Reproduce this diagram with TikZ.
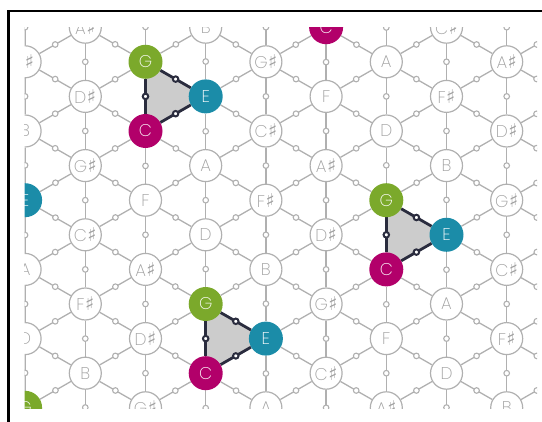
\documentclass[tikz,border=0pt]{standalone}
\usepackage{fontspec}
\setmainfont{Poppins ExtraLight}
\newfontfamily\tnzsym{DejaVu Sans}
\definecolor{lgray}{HTML}{B0B0B0}
\definecolor{tgray}{HTML}{A0A0A0}
\definecolor{cmag}{HTML}{B2006A}
\definecolor{eteal}{HTML}{1B8CA8}
\definecolor{ggreen}{HTML}{7BA92B}
\definecolor{dnavy}{HTML}{2A2C3E}
\definecolor{trifill}{HTML}{CCCCCC}
\newcommand\tnzsharp{{\tnzsym\fontsize{19}{19}\selectfont\kern0.5pt ♯}}
\newcommand\tnzname[1]{\ifcase#1 C\or C\tnzsharp\or D\or D\tnzsharp\or E\or F\or F\tnzsharp\or G\or G\tnzsharp\or A\or A\tnzsharp\or B\fi}
\pgfdeclarelayer{bg}
\pgfsetlayers{bg,main}
\tikzset{
  note/.style={circle, draw=lgray, line width=1.2pt, fill=white, minimum size=32pt, inner sep=0pt, text=tgray, font=\fontsize{17}{17}\selectfont},
  colnote/.style={circle, draw=none, fill=#1, minimum size=34pt, inner sep=0pt, text=white, font=\fontsize{17}{17}\selectfont},
  tone0/.style={colnote=cmag}, tone1/.style={note}, tone2/.style={note}, tone3/.style={note},
  tone4/.style={colnote=eteal}, tone5/.style={note}, tone6/.style={note}, tone7/.style={colnote=ggreen},
  tone8/.style={note}, tone9/.style={note}, tone10/.style={note}, tone11/.style={note},
  gedge/.style={draw=lgray, line width=1.3pt},
  dedge/.style={draw=dnavy, line width=2.8pt},
  gdot/.style={circle, draw=lgray, line width=1.1pt, fill=white, minimum size=5.6pt, inner sep=0pt},
  ddot/.style={circle, draw=dnavy, line width=2pt, fill=white, minimum size=5.5pt, inner sep=0pt},
  frame/.style={draw=black, line width=2.5pt}
}
\begin{document}
\begin{tikzpicture}[x=1pt,y=-1pt]
\useasboundingbox (0,0) rectangle (542,422);
\draw[frame] (542,11) -- (8.5,11) -- (8.5,422);
\begin{scope}
\clip (24.5,28) rectangle (537,409);
% notes
\foreach \i in {0,...,10}{
  \foreach \j in {0,...,15}{
    \pgfmathtruncatemacro\ta{\i-3}
    \pgfmathtruncatemacro\tk{\j-5}
    \pgfmathtruncatemacro\tpty{mod(\ta+\tk+100,2)}
    \ifnum\tpty=0
      \pgfmathtruncatemacro\tp{mod(4*\ta+5*(\tk+\ta)/2+120,12)}
      \node[tone\tp] (v-\i-\j) at ({145.5+60.2*\ta},{131+34.6*\tk}) {\tnzname{\tp}};
    \fi
  }
}
\end{scope}
\begin{pgfonlayer}{bg}
\begin{scope}
\clip (24.5,28) rectangle (537,409);
% gray edges
\foreach \i in {0,...,10}{
  \foreach \j in {0,...,15}{
    \pgfmathtruncatemacro\ta{\i-3}
    \pgfmathtruncatemacro\tk{\j-5}
    \pgfmathtruncatemacro\tpty{mod(\ta+\tk+100,2)}
    \pgfmathtruncatemacro\jd{\j+2}
    \pgfmathtruncatemacro\jm{\j-1}
    \pgfmathtruncatemacro\jp{\j+1}
    \pgfmathtruncatemacro\ii{\i+1}
    \ifnum\tpty=0
      \ifnum\jd<16
        \draw[gedge] (v-\i-\j) -- node[gdot] (mv-\i-\j) {} (v-\i-\jd);
      \fi
      \ifnum\i<10
        \ifnum\j>0
          \draw[gedge] (v-\i-\j) -- node[gdot] (mu-\i-\j) {} (v-\ii-\jm);
        \fi
        \ifnum\j<15
          \draw[gedge] (v-\i-\j) -- node[gdot] (md-\i-\j) {} (v-\ii-\jp);
        \fi
      \fi
    \fi
  }
}
% C-E-G triangles
\foreach \i/\j in {3/5, 7/9, 4/12}{
  \pgfmathtruncatemacro\ii{\i+1}
  \pgfmathtruncatemacro\jm{\j-1}
  \pgfmathtruncatemacro\jmm{\j-2}
  \fill[trifill] (v-\i-\j.center) -- (v-\ii-\jm.center) -- (v-\i-\jmm.center) -- cycle;
  \draw[dedge] (v-\i-\j) -- node[ddot] (tce-\i-\j) {} (v-\ii-\jm);
  \draw[dedge] (v-\ii-\jm) -- node[ddot] (teg-\i-\j) {} (v-\i-\jmm);
  \draw[dedge] (v-\i-\jmm) -- node[ddot] (tgc-\i-\j) {} (v-\i-\j);
}
\end{scope}
\end{pgfonlayer}
\end{tikzpicture}
\end{document}
